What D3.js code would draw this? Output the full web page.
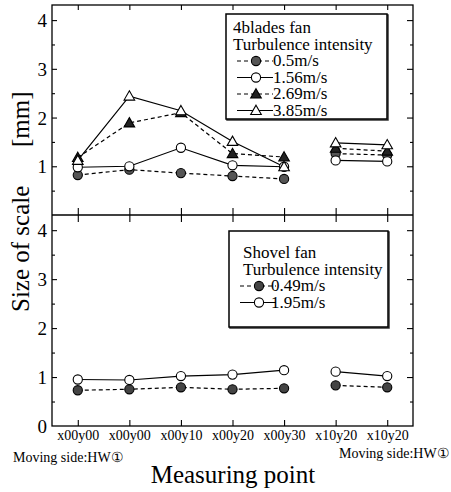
<!DOCTYPE html>
<html><head><meta charset="utf-8">
<script src="https://cdn.jsdelivr.net/npm/d3@7"></script>
<style>body{margin:0;background:#fff}svg{display:block}svg text{font-family:"Liberation Serif","Times New Roman",serif !important;fill:#000}</style>
</head><body>
<svg id="c" width="451" height="492"></svg>
<script>
// ---- data ----
const categories = ["x00y00","x00y00","x00y10","x00y20","x00y30","x10y20","x10y20"];
const segments = [[0,4],[5,6]];
const yTicks = [0,1,2,3,4];
// 4blades fan
const fan4_05  = [0.82,0.93,0.86,0.80,0.74,1.26,1.23];
const fan4_156 = [0.98,1.00,1.38,1.02,0.99,1.12,1.10];
const fan4_269 = [1.18,1.89,2.10,1.26,1.19,1.37,1.31];
const fan4_385 = [1.12,2.44,2.14,1.51,0.99,1.48,1.44];
// Shovel fan
const shovel_049 = [0.73,0.75,0.79,0.75,0.77,0.83,0.79];
const shovel_195 = [0.95,0.94,1.02,1.05,1.14,1.11,1.02];

const topSeries = [
  {name:"0.5m/s",  values:fan4_05,  marker:"circle",   fill:"#555", dash:"4,3"},
  {name:"1.56m/s", values:fan4_156, marker:"circle",   fill:"#fff", dash:null},
  {name:"2.69m/s", values:fan4_269, marker:"triangle", fill:"#222", dash:"4,3"},
  {name:"3.85m/s", values:fan4_385, marker:"triangle", fill:"#fff", dash:null}
];
const botSeries = [
  {name:"0.49m/s", values:shovel_049, marker:"circle", fill:"#444", dash:"4,3"},
  {name:"1.95m/s", values:shovel_195, marker:"circle", fill:"#fff", dash:null}
];

const svg = d3.select("#c");
const L = 52, R = 413, T = 5, M = 215, B = 426;
const x = d3.scalePoint().domain(d3.range(categories.length)).range([L,R]).padding(0.5);
const yTop = d3.scaleLinear().domain([0,4.31]).range([M,T]);
const yBot = d3.scaleLinear().domain([0,4.31]).range([B,M]);

function drawMarker(g, type, cx, cy, fill){
  if(type==="circle"){
    g.append("circle").attr("cx",cx).attr("cy",cy).attr("r",4.6)
     .attr("fill",fill).attr("stroke","#000").attr("stroke-width",1.1);
  } else {
    const s=5.3;
    g.append("path").attr("d",`M${cx},${cy-s}L${cx+s},${cy+s*0.75}L${cx-s},${cy+s*0.75}Z`)
     .attr("fill",fill).attr("stroke","#000").attr("stroke-width",1.1);
  }
}

function panel(y, series, showZero){
  const g = svg.append("g");
  const minor = d3.range(0.5,4.31,1);
  const major = [1,2,3,4];
  g.append("g").attr("transform",`translate(${L},0)`).call(d3.axisRight(y).tickValues(minor).tickSize(3).tickFormat("")).call(a=>a.select(".domain").remove());
  g.append("g").attr("transform",`translate(${L},0)`).call(d3.axisRight(y).tickValues(major).tickSize(5).tickFormat("")).call(a=>a.select(".domain").remove());
  g.append("g").attr("transform",`translate(${R},0)`).call(d3.axisLeft(y).tickValues(minor).tickSize(3).tickFormat("")).call(a=>a.select(".domain").remove());
  g.append("g").attr("transform",`translate(${R},0)`).call(d3.axisLeft(y).tickValues(major).tickSize(6).tickFormat("")).call(a=>a.select(".domain").remove());
  const lab = g.append("g").attr("transform",`translate(${L-5},0)`)
    .call(d3.axisLeft(y).tickValues(showZero?yTicks:yTicks.filter(v=>v>0)).tickSize(0).tickPadding(0).tickFormat(d3.format("d")));
  lab.select(".domain").remove();
  lab.selectAll("text").attr("font-size",19).attr("dy","0.34em");
  series.forEach(s=>{
    segments.forEach(([a,b])=>{
      const idx = d3.range(a,b+1);
      g.append("path").datum(idx)
        .attr("d",d3.line().x(i=>x(i)).y(i=>y(s.values[i])))
        .attr("fill","none").attr("stroke","#000").attr("stroke-width",1.2)
        .attr("stroke-dasharray",s.dash);
    });
  });
  series.forEach(s=>{
    s.values.forEach((v,i)=>drawMarker(g,s.marker,x(i),y(v),s.fill));
  });
  return g;
}
panel(yTop, topSeries, false);
panel(yBot, botSeries, true);

svg.append("g").attr("transform",`translate(0,${T})`).call(d3.axisBottom(x).tickSize(5).tickFormat("")).call(a=>a.select(".domain").remove());
svg.append("g").attr("transform",`translate(0,${M-7})`).call(d3.axisBottom(x).tickSize(14).tickFormat("")).call(a=>a.select(".domain").remove());
const xb = svg.append("g").attr("transform",`translate(0,${B})`).call(d3.axisTop(x).tickSize(6).tickFormat(i=>categories[i]));
xb.select(".domain").remove();
xb.selectAll("text").attr("transform","translate(0,23)").attr("font-size",14);
svg.selectAll(".tick line").attr("stroke","#000").attr("stroke-width",1.1);

svg.append("rect").attr("x",L).attr("y",T).attr("width",R-L).attr("height",B-T).attr("fill","none").attr("stroke","#000").attr("stroke-width",1.3);
svg.append("line").attr("x1",L).attr("x2",R).attr("y1",M).attr("y2",M).attr("stroke","#000").attr("stroke-width",1.3);

function legend(bx,by,bw,bh,title,tx,base,series,symX,textX){
  const g = svg.append("g");
  g.append("rect").attr("x",bx+1).attr("y",by+1).attr("width",bw).attr("height",bh).attr("fill","none").attr("stroke","#333").attr("stroke-width",1.5);
  g.append("rect").attr("x",bx).attr("y",by).attr("width",bw).attr("height",bh).attr("fill","#fff").attr("stroke","#000").attr("stroke-width",1.5);
  const lh = 16.5;
  [title,"Turbulence intensity"].forEach((t,k)=>g.append("text").attr("x",tx).attr("y",base+k*lh).attr("font-size",17).text(t));
  series.forEach((s,k)=>{
    const yy = base+(k+2)*lh-5;
    g.append("line").attr("x1",symX-19).attr("x2",symX+17).attr("y1",yy).attr("y2",yy)
      .attr("stroke","#000").attr("stroke-width",1.2).attr("stroke-dasharray",s.dash);
    drawMarker(g,s.marker,symX,yy,s.fill);
    g.append("text").attr("x",textX).attr("y",base+(k+2)*lh).attr("font-size",17).text(s.name);
  });
}
legend(226,14,161,105,"4blades fan",233,33,topSeries,256,273);
legend(229,231,159,96,"Shovel fan",243,258,botSeries,259,271);

svg.append("text").attr("transform","translate(29,312) rotate(-90)").attr("font-size",25).text("Size of scale");
svg.append("text").attr("transform","translate(29,147) rotate(-90)").attr("font-size",25).text("[mm]");
svg.append("text").attr("x",233).attr("y",483).attr("text-anchor","middle").attr("font-size",25).text("Measuring point");
svg.append("text").attr("x",13).attr("y",462).attr("font-size",14).text("Moving side:HW①");
svg.append("text").attr("x",339).attr("y",458).attr("font-size",14).text("Moving side:HW①");
</script>
</body></html>
